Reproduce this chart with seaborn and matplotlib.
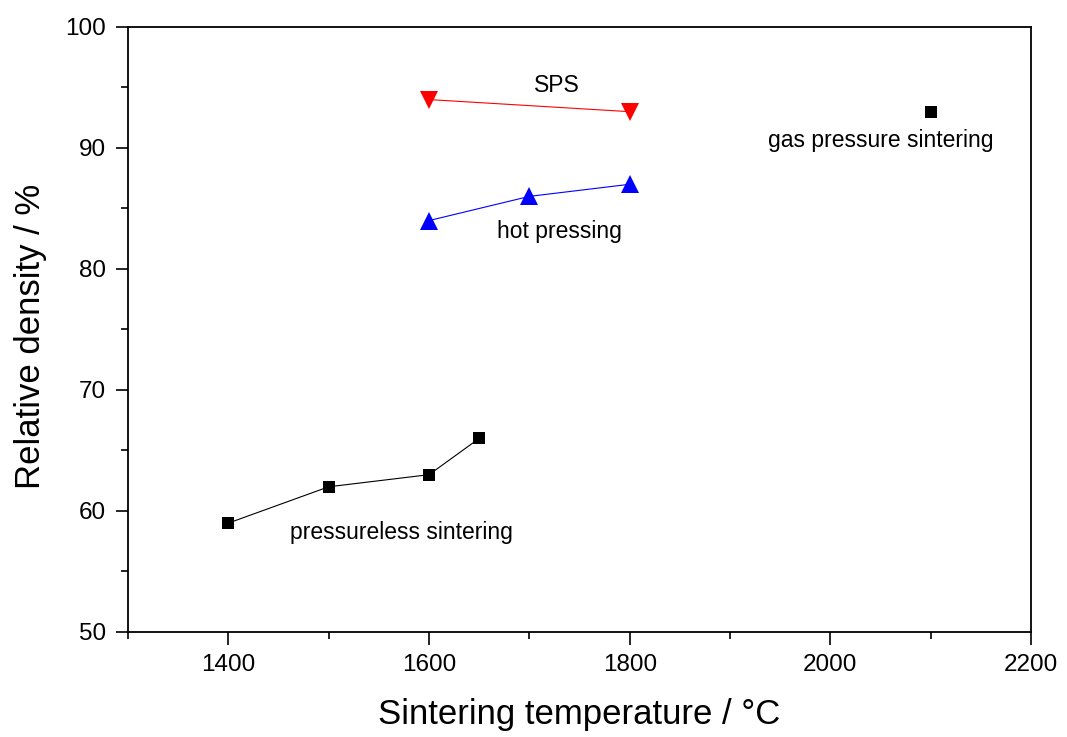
import matplotlib
matplotlib.use("Agg")
import matplotlib.pyplot as plt
import seaborn as sns
import pandas as pd
from matplotlib.ticker import MultipleLocator

sns.set_theme(style="ticks")
plt.rcParams['font.family'] = ['Liberation Sans', 'DejaVu Sans']

pl_temp = [1400, 1500, 1600, 1650]
pl_dens = [59, 62, 63, 66]
hp_temp = [1600, 1700, 1800]
hp_dens = [84, 86, 87]
sps_temp = [1600, 1800]
sps_dens = [94, 93]
gps_temp = [2100]
gps_dens = [93]

labels = ["pressureless sintering", "hot pressing", "SPS", "gas pressure sintering"]
label_x = [1572, 1730, 1727, 2050]
label_y = [58.2, 83.1, 95.2, 90.6]

fig = plt.figure(figsize=(10.67, 7.37), dpi=100)
ax = fig.add_axes([0.12, 0.1425, 0.8463, 0.8209])

sns.lineplot(x=pl_temp, y=pl_dens, ax=ax, color="black", lw=0.8, marker="s",
             markersize=9, markeredgewidth=0, markerfacecolor="black")
sns.lineplot(x=hp_temp, y=hp_dens, ax=ax, color="blue", lw=0.8, marker="^",
             markersize=13, markeredgewidth=0, markerfacecolor="blue")
sns.lineplot(x=sps_temp, y=sps_dens, ax=ax, color="red", lw=0.8, marker="v",
             markersize=13, markeredgewidth=0, markerfacecolor="red")
sns.scatterplot(x=gps_temp, y=gps_dens, ax=ax, color="black", marker="s", s=81,
                linewidth=0)

for t, x, y in zip(labels, label_x, label_y):
    ax.text(x, y, t, ha="center", va="center", fontsize=16.5, color="black")

ax.set_xlim(1300, 2200)
ax.set_ylim(50, 100)
ax.xaxis.set_major_locator(MultipleLocator(200))
ax.xaxis.set_minor_locator(MultipleLocator(100))
ax.yaxis.set_major_locator(MultipleLocator(10))
ax.yaxis.set_minor_locator(MultipleLocator(5))
ax.tick_params(which="major", direction="out", length=9, width=1.2, labelsize=17.5,
               pad=7, color="black", labelcolor="black")
ax.tick_params(which="minor", direction="out", length=5, width=1.2, color="black")
for s in ax.spines.values():
    s.set_linewidth(1.3)
    s.set_color("black")

ax.set_xlabel("Sintering temperature / °C", fontsize=25, color="black", labelpad=16)
ax.set_ylabel("Relative density / %", fontsize=25, color="black")
ax.yaxis.set_label_coords(-0.09, 0.488)

fig.savefig("out.png", dpi=100)
